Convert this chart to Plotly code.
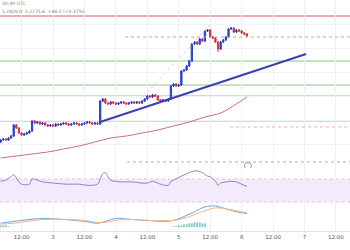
import pandas as pd
import plotly.graph_objects as go
from plotly.subplots import make_subplots

# ---- candle data (hourly) ----
start_time = "2024-01-02 04:00"
open_ = [58,60,61,60,62,64,75,72,67,65,66,67,69,79,77,78,76,77,75,74,75,74,76,75,76,77,76,75,76,77,
         76,75,76,77,78,77,76,77,76,99,101,97,96,98,97,96,97,98,97,96,97,98,97,98,97,99,101,104,103,105,
         104,100,99,100,99,101,114,116,114,115,129,130,134,139,156,158,156,161,159,169,170,163,162,158,151,158,160,163,171,172,
         168,170,169,167,166]
high = [61,62,62,63,65,76,76,73,68,67,68,70,80,80,79,79,78,78,76,76,76,77,77,77,78,78,77,77,78,78,
        77,77,78,79,79,78,78,78,100,102,102,98,99,99,98,98,99,99,98,98,99,99,99,99,100,102,105,105,106,106,
        105,101,101,101,102,115,117,117,116,130,131,135,140,157,159,159,162,162,170,171,171,164,163,159,159,161,164,172,173,173,
        171,171,170,168,167]
low = [57,59,59,59,61,63,71,66,64,64,65,66,68,76,76,75,75,74,73,73,73,73,74,74,75,75,74,74,75,75,
       74,74,75,76,76,75,75,75,75,98,96,95,95,96,95,95,96,96,95,95,96,96,96,96,96,98,100,102,102,103,
       99,98,98,98,98,100,113,113,113,114,128,129,133,138,155,155,155,158,158,168,162,161,157,148,150,157,159,162,170,167,
       167,168,166,165,163]
close = [60,61,60,62,64,75,72,67,65,66,67,69,79,77,78,76,77,75,74,75,74,76,75,76,77,76,75,76,77,76,
         75,76,77,78,77,76,77,76,99,101,97,96,98,97,96,97,98,97,96,97,98,97,98,97,99,101,104,103,105,104,
         100,99,100,99,101,114,116,114,115,129,130,134,139,156,158,156,161,159,169,170,163,162,158,151,158,160,163,171,172,168,
         170,169,167,166,164]

# ---- moving average (sampled at candle index) ----
ma_idx = [0,6,12,18,24,30,36,42,48,54,60,66,72,78,84,90,94]
ma_val = [42,44,46,48,51,54,58,62,64,67,70,74,78,83,87,96,103]

# ---- RSI ----
rsi_idx = [0,2,4,5,7,8,11,12,14,16,20,25,30,33,37,38,39,40,41,42,46,50,54,56,58,61,64,65,67,69,
           71,73,75,77,79,80,82,83,84,86,88,90,92,94]
rsi_val = [66,68,74,77,65,61,61,70,68,65,63,61,61,59,61,70,79,81,74,68,65,65,63,63,66,61,59,66,70,75,
           79,83,84,81,75,74,66,59,63,65,66,65,61,57]

# ---- MACD ----
macd_idx = [0,8,16,24,32,37,40,44,50,56,62,66,70,74,78,82,86,90,94]
macd_val = [4,7,9,8,6,4,6,9,8,7,6,7,11,16,21,22,19,16,14]
signal_val = [3,5,8,8,7,5,5,7,8,7,7,7,9,13,17,20,19,17,15]
hist_idx = [0,1,2,3,66,67,68,69,70,71,72,73,74,75,76,77,78]
hist_val = [2,2,2,1,1,1,2,2,3,3,4,4,5,5,5,4,4]

# ---- levels / drawings ----
resistance = 184
green_levels = [139, 115, 104, 79]
dotted_levels = [(163, "2024-01-04 03:30", "#b0b0b0"), (38, "2024-01-04 04:15", "#b0b0b0"),
                 (73, "2024-01-05 19:35", "#eab0bd")]
trend_t = ["2024-01-03 18:00", "2024-01-07 00:35"]
trend_p = [78, 146]
fib_t = ["2024-01-04 10:20", "2024-01-05 11:55"]
fib_p = [103, 175]
alert_t = ["2024-01-06 02:24"]
alert_p = [34]

x_range = ["2024-01-02 03:46", "2024-01-07 17:22"]
tick_vals = ["2024-01-02 12:00", "2024-01-03", "2024-01-03 12:00", "2024-01-04", "2024-01-04 12:00",
             "2024-01-05", "2024-01-05 12:00", "2024-01-06", "2024-01-06 12:00", "2024-01-07", "2024-01-07 12:00"]
tick_text = ["12:00", "3", "12:00", "4", "12:00", "5", "12:00", "6", "12:00", "7", "12:00"]

header1 = "30:49 UTC"
header2 = "1.2820.0  1.2775.6  +46.5 (+0.37%)"

times = pd.date_range(start_time, periods=len(close), freq="h")

fig = make_subplots(rows=3, cols=1, shared_xaxes=True, vertical_spacing=0,
                    row_heights=[168, 37, 26])

for lv, t0, col in dotted_levels:
    fig.add_trace(go.Scatter(x=[t0, x_range[1]], y=[lv, lv], mode="lines",
                             line=dict(color=col, width=1, dash="dot"), hoverinfo="skip"), row=1, col=1)

fig.add_trace(go.Scatter(x=fib_t, y=fib_p, mode="lines", line=dict(color="#d4d4d4", width=1, dash="dot"),
                         hoverinfo="skip"), row=1, col=1)

fig.add_trace(go.Scatter(x=times[ma_idx], y=ma_val, mode="lines", line=dict(color="#c97070", width=1, shape="spline"),
                         hoverinfo="skip"), row=1, col=1)

fig.add_trace(go.Scatter(x=trend_t, y=trend_p, mode="lines", line=dict(color="#3a3fb5", width=2),
                         hoverinfo="skip"), row=1, col=1)

fig.add_trace(go.Candlestick(x=times, open=open_, high=high, low=low, close=close,
                             increasing=dict(line=dict(color="#2b3fd0", width=1), fillcolor="#2b3fd0"),
                             decreasing=dict(line=dict(color="#d8323c", width=1), fillcolor="#d8323c"),
                             whiskerwidth=0), row=1, col=1)

fig.add_trace(go.Scatter(x=alert_t, y=alert_p, mode="markers",
                         marker=dict(symbol="circle-open", size=7, color="#b47fcf", line=dict(width=1)),
                         hoverinfo="skip"), row=1, col=1)

# RSI
fig.add_trace(go.Scatter(x=times[rsi_idx], y=rsi_val, mode="lines",
                         line=dict(color="#9480bd", width=1, shape="spline"), hoverinfo="skip"), row=2, col=1)

# MACD
fig.add_trace(go.Bar(x=times[hist_idx], y=hist_val, marker=dict(color="rgba(38,166,154,0.55)", line_width=0),
                     hoverinfo="skip"), row=3, col=1)
fig.add_trace(go.Scatter(x=times[macd_idx], y=macd_val, mode="lines",
                         line=dict(color="#6fa3dd", width=1, shape="spline"), hoverinfo="skip"), row=3, col=1)
fig.add_trace(go.Scatter(x=times[macd_idx], y=signal_val, mode="lines",
                         line=dict(color="#f0b68a", width=1, shape="spline"), hoverinfo="skip"), row=3, col=1)

# level lines (main) and RSI band, drawn as layout shapes beneath traces
fig.add_hline(y=resistance, line=dict(color="#dc5a5f", width=1), layer="below",
              row=1, col=1, exclude_empty_subplots=False)
for lv in green_levels:
    fig.add_hline(y=lv, line=dict(color="#8cc98a", width=1), layer="below",
                  row=1, col=1, exclude_empty_subplots=False)
fig.add_hrect(y0=30, y1=70, fillcolor="rgba(175,115,228,0.15)", line_width=0, layer="below",
              row=2, col=1, exclude_empty_subplots=False)
for lv in (30, 70):
    fig.add_hline(y=lv, line=dict(color="#d8c8ec", width=1, dash="dot"), layer="below",
                  row=2, col=1, exclude_empty_subplots=False)

for r in (1, 2, 3):
    fig.update_xaxes(range=x_range, tickvals=tick_vals, ticktext=tick_text, showgrid=True,
                     gridcolor="#eef0f4", gridwidth=1, zeroline=False, showline=False,
                     tickfont=dict(size=5.5, color="#555", family="DejaVu Sans"), ticks="",
                     rangeslider=dict(visible=False), row=r, col=1)
fig.update_xaxes(showline=True, linecolor="#e0e3ea", linewidth=1, row=3, col=1)

fig.update_yaxes(range=[32, 200], showticklabels=False, showgrid=True, gridcolor="#f1f3f7",
                 dtick=24, tick0=8, zeroline=False, row=1, col=1)
fig.update_yaxes(range=[24.8, 89.1], showticklabels=False, showgrid=False, zeroline=False,
                 showline=True, linecolor="#e4e6ec", mirror=False, row=2, col=1)
fig.update_yaxes(range=[-4, 23], showticklabels=False, showgrid=False, zeroline=False, row=3, col=1)

fig.add_annotation(xref="paper", yref="paper", x=0, y=1 - 3 / 231, text=header1, showarrow=False,
                   xanchor="left", yanchor="middle", font=dict(size=4.5, color="#888", family="DejaVu Sans"))
fig.add_annotation(xref="paper", yref="paper", x=0, y=1 - 11 / 231, text=header2, showarrow=False,
                   xanchor="left", yanchor="middle", font=dict(size=4.5, color="#777", family="DejaVu Sans"))

fig.update_layout(width=350, height=250, margin=dict(l=0, r=0, t=0, b=19),
                  paper_bgcolor="white", plot_bgcolor="white", showlegend=False,
                  bargap=0.3, hovermode=False)

fig.write_html("out.html")
